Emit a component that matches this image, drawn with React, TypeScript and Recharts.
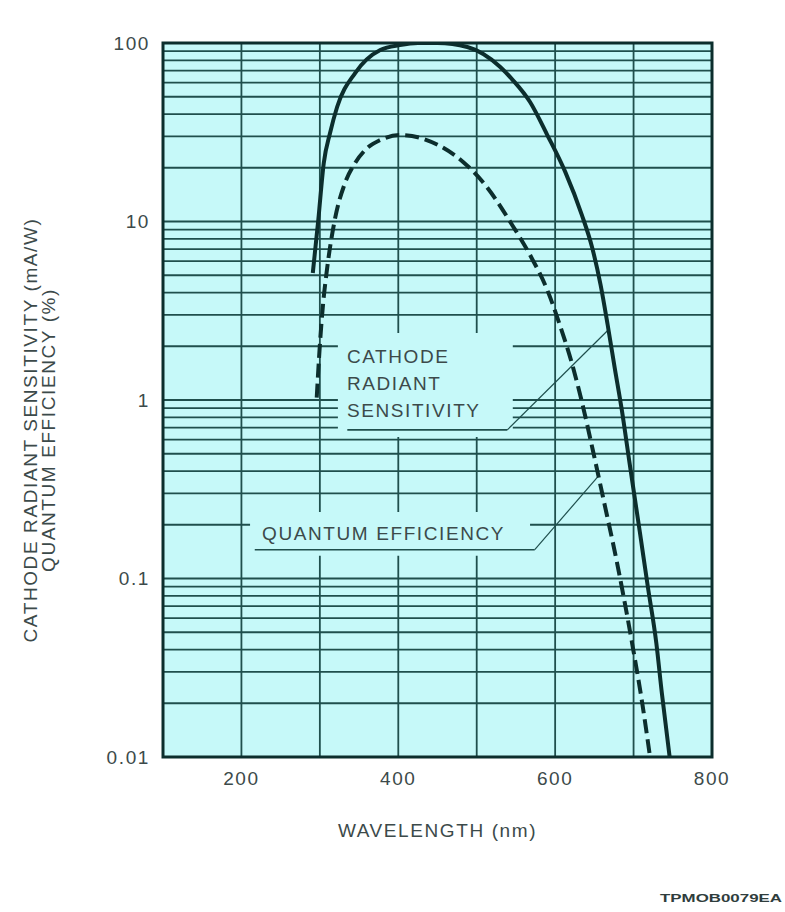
import React from 'react';
import {
  LineChart,
  Line,
  XAxis,
  YAxis,
  CartesianGrid,
  ReferenceArea,
  ReferenceLine,
} from 'recharts';

// Wavelength axis (nm)
const WAVELENGTH_DOMAIN = [100, 800];
const WAVELENGTH_TICKS = [200, 400, 600, 800];
const WAVELENGTH_GRID = [200, 300, 400, 500, 600, 700];

// Logarithmic sensitivity / efficiency axis
const LOG_DOMAIN = [0.01, 100];
const LOG_TICKS = [0.01, 0.1, 1, 10, 100];
const LOG_TICK_LABELS = ['0.01', '0.1', '1', '10', '100'];
const DECADES = [0.01, 0.1, 1, 10];
const MULTIPLIERS = [1, 2, 3, 4, 5, 6, 7, 8, 9];

// Cathode radiant sensitivity (mA/W)
const radiantWavelength = [
  291, 298, 305, 313, 322, 345, 377, 402, 425, 450, 488, 530, 546, 568, 590,
  613, 634, 647, 658, 667, 676, 685, 695, 708, 718, 729, 736, 746,
];
const radiantSensitivity = [
  5.15, 10.2, 21.3, 31.3, 43.8, 67.9, 91.4, 97.4, 100, 100, 95, 73.4, 62,
  46.7, 30.5, 18.9, 10.9, 7.2, 4.4, 2.63, 1.51, 0.88, 0.44, 0.182, 0.091,
  0.0435, 0.0229, 0.01,
];

// Quantum efficiency (%)
const qeWavelength = [
  296, 300, 304, 309, 319, 332, 345, 358, 377, 402, 428, 453, 483, 511, 546,
  568, 590, 606, 622, 636, 648, 661, 679, 699, 711, 721,
];
const quantumEfficiency = [
  1.03, 2.03, 3.41, 5.35, 10.2, 16.4, 21.3, 25.2, 28.6, 30.5, 29.4, 26.5, 21.5,
  16.0, 9.44, 6.49, 4.13, 2.63, 1.57, 0.9, 0.525, 0.286, 0.122, 0.0413, 0.0201,
  0.01,
];

// Callout boxes and leader lines (data units)
const cathodeBox = { x1: 323, x2: 546, y1: 0.62, y2: 2.37 };
const cathodeLeader = [
  { x: 335, y: 0.68 },
  { x: 539, y: 0.68 },
  { x: 667, y: 2.45 },
];
const qeBox = { x1: 211, x2: 568, y1: 0.134, y2: 0.236 };
const qeLeader = [
  { x: 217, y: 0.145 },
  { x: 574, y: 0.145 },
  { x: 654, y: 0.37 },
];

const BG = '#c6f9f9';
const GRID = '#1f4f4d';
const INK = '#0c2e2d';
const TEXT = '#3c4a4a';
const FONT = '"Liberation Sans", Arial, Helvetica, sans-serif';

const radiantData = radiantWavelength.map((wl, i) => ({ wl, v: radiantSensitivity[i] }));
const qeData = qeWavelength.map((wl, i) => ({ wl, v: quantumEfficiency[i] }));
const gridValues = DECADES.flatMap((d) => MULTIPLIERS.map((m) => +(m * d).toPrecision(3))).filter(
  (v) => v > 0.01
);

const textStyle = {
  fontFamily: FONT,
  fontSize: 19,
  fill: TEXT,
  letterSpacing: 1.6,
};

function CathodeText(props: any) {
  const vb = props.viewBox || {};
  const x = vb.x + 9;
  const y = vb.y;
  return (
    <text {...textStyle} x={x} y={y}>
      <tspan x={x} y={y + 30}>CATHODE</tspan>
      <tspan x={x} y={y + 57}>RADIANT</tspan>
      <tspan x={x} y={y + 84}>SENSITIVITY</tspan>
    </text>
  );
}

function QeText(props: any) {
  const vb = props.viewBox || {};
  return (
    <text {...textStyle} x={vb.x + 12} y={vb.y + 28}>
      QUANTUM EFFICIENCY
    </text>
  );
}

function YTitle(props: any) {
  const vb = props.viewBox || {};
  const cy = vb.y + vb.height / 2 + 30;
  return (
    <g>
      <text
        {...textStyle}
        x={30}
        y={cy}
        textAnchor="middle"
        dominantBaseline="central"
        transform={`rotate(-90, 30, ${cy})`}
      >
        CATHODE RADIANT SENSITIVITY (mA/W)
      </text>
      <text
        {...textStyle}
        x={48}
        y={cy}
        textAnchor="middle"
        dominantBaseline="central"
        transform={`rotate(-90, 48, ${cy})`}
      >
        QUANTUM EFFICIENCY (%)
      </text>
    </g>
  );
}

function XTitle(props: any) {
  const vb = props.viewBox || {};
  return (
    <text
      {...textStyle}
      x={vb.x + vb.width / 2}
      y={vb.y + 73}
      textAnchor="middle"
      dominantBaseline="central"
    >
      WAVELENGTH (nm)
    </text>
  );
}

export default function App() {
  return (
    <div style={{ position: 'absolute', left: 0, top: 0, width: 785, height: 912, background: '#fff' }}>
      <LineChart
        width={785}
        height={912}
        margin={{ top: 43, right: 73, bottom: 75, left: 0 }}
      >
        {/* plot background only; grid lines are drawn below */}
        <CartesianGrid fill={BG} fillOpacity={1} horizontal={false} vertical={false} />
        <XAxis
          type="number"
          dataKey="wl"
          domain={WAVELENGTH_DOMAIN}
          ticks={WAVELENGTH_TICKS}
          allowDataOverflow
          height={80}
          axisLine={false}
          tickLine={false}
          tickMargin={9}
          tick={{ ...textStyle }}
          label={{ content: (p: any) => <XTitle {...p} /> }}
        />
        <YAxis
          type="number"
          scale="log"
          domain={LOG_DOMAIN}
          ticks={LOG_TICKS}
          allowDataOverflow
          width={163}
          axisLine={false}
          tickLine={false}
          tickMargin={7}
          tickFormatter={(v: number) => LOG_TICK_LABELS[LOG_TICKS.indexOf(v)] ?? String(v)}
          tick={{ ...textStyle }}
          label={{ content: (p: any) => <YTitle {...p} /> }}
        />

        {/* logarithmic grid: every integer multiple of each decade */}
        {gridValues.map((v) => (
          <ReferenceLine key={`h-${v}`} y={v} stroke={GRID} strokeWidth={1.8} zIndex={50} />
        ))}
        {WAVELENGTH_GRID.map((w) => (
          <ReferenceLine key={`v-${w}`} x={w} stroke={GRID} strokeWidth={1.8} zIndex={50} />
        ))}

        {/* callout backgrounds hide the grid behind the text */}
        <ReferenceArea
          {...cathodeBox}
          fill={BG}
          fillOpacity={1}
          stroke="none"
          zIndex={60}
          label={{ content: (p: any) => <CathodeText {...p} /> }}
        />
        <ReferenceArea
          {...qeBox}
          fill={BG}
          fillOpacity={1}
          stroke="none"
          zIndex={60}
          label={{ content: (p: any) => <QeText {...p} /> }}
        />

        <ReferenceLine segment={[cathodeLeader[0], cathodeLeader[1]]} stroke={GRID} strokeWidth={1.6} zIndex={70} />
        <ReferenceLine segment={[cathodeLeader[1], cathodeLeader[2]]} stroke={GRID} strokeWidth={1.2} zIndex={70} />
        <ReferenceLine segment={[qeLeader[0], qeLeader[1]]} stroke={GRID} strokeWidth={1.6} zIndex={70} />
        <ReferenceLine segment={[qeLeader[1], qeLeader[2]]} stroke={GRID} strokeWidth={1.2} zIndex={70} />

        {/* plot frame */}
        <ReferenceArea
          x1={WAVELENGTH_DOMAIN[0]}
          x2={WAVELENGTH_DOMAIN[1]}
          y1={LOG_DOMAIN[0]}
          y2={LOG_DOMAIN[1]}
          fill="none"
          stroke={INK}
          strokeWidth={3}
          zIndex={80}
        />

        <Line
          data={radiantData}
          dataKey="v"
          type="monotone"
          stroke={INK}
          strokeWidth={4}
          dot={false}
          activeDot={false}
          isAnimationActive={false}
        />
        <Line
          data={qeData}
          dataKey="v"
          type="monotone"
          stroke={INK}
          strokeWidth={4}
          strokeDasharray="14 6"
          dot={false}
          activeDot={false}
          isAnimationActive={false}
        />
      </LineChart>
      <svg
        width={130}
        height={20}
        style={{ position: 'absolute', left: 655, top: 888 }}
      >
        <text
          x={5}
          y={14}
          fontFamily={FONT}
          fontSize={11}
          fontWeight="bold"
          fill="#2f3d3d"
          textLength={122}
          lengthAdjust="spacingAndGlyphs"
        >
          TPMOB0079EA
        </text>
      </svg>
    </div>
  );
}
